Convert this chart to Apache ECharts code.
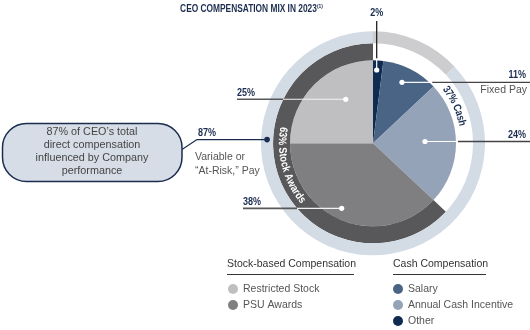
<!DOCTYPE html>
<html>
<head>
<meta charset="utf-8">
<script src="https://cdn.jsdelivr.net/npm/echarts@6/dist/echarts.min.js"></script>
<style>
  html, body { margin: 0; padding: 0; background: #fff; }
  #chart { width: 530px; height: 330px; }
</style>
</head>
<body>
<div id="chart"></div>
<script>
// Pay components, clockwise from 12 o'clock
const components = ['Other', 'Salary', 'Annual Cash Incentive', 'PSU Awards', 'Restricted Stock'];
const shares = [2, 11, 24, 38, 25];
const shareLabels = ['2%', '11%', '24%', '38%', '25%'];
const subLabels = ['', 'Fixed Pay', '', '', ''];
const payGroup = ['cash', 'cash', 'cash', 'stock', 'stock'];
const isVariable = [false, false, true, true, true];

// Legend groups
const stockItems = ['Restricted Stock', 'PSU Awards'];
const cashItems = ['Salary', 'Annual Cash Incentive', 'Other'];
const groupTitles = ['Stock-based Compensation', 'Cash Compensation'];

const titleText = 'CEO COMPENSATION MIX IN 2023';
const titleNote = '(1)';

// ---- derived totals ----
const sumWhere = (f) => shares.reduce((a, v, i) => a + (f(i) ? v : 0), 0);
const total = shares.reduce((a, b) => a + b, 0);
const cashTotal = sumWhere(i => payGroup[i] === 'cash');
const stockTotal = sumWhere(i => payGroup[i] === 'stock');
const variableTotal = sumWhere(i => isVariable[i]);
const fixedTotal = total - variableTotal;

// ---- geometry & style ----
const CX = 373, CY = 143.3;
const R_PIE = 83, R_RING = 100, R_OUT = 112;
const NAVY = '#1b2d4f';
const REG = "'Liberation Sans', Arial, Helvetica, sans-serif";
const NARROW_X = 0.82;          // horizontal squeeze for the condensed bold captions
const BOLD = (px) => `bold ${px}px ${REG}`;
const sliceColors = {
  'Other': '#0f2b52',
  'Salary': '#4a6485',
  'Annual Cash Incentive': '#94a3b7',
  'PSU Awards': '#7f7f82',
  'Restricted Stock': '#bfbfc2'
};
// where each callout dot sits inside its slice (t: fraction of sweep, rf: fraction of radius)
const calloutStyle = {
  'Other': { side: 'top', t: 0.4, rf: 0.884, end: 21 },
  'Salary': { side: 'right', t: 0.46, rf: 0.813, end: 530 },
  'Annual Cash Incentive': { side: 'right', t: 0.477, rf: 0.627, end: 530 },
  'PSU Awards': { side: 'left', t: 0.53, rf: 0.87, end: 243 },
  'Restricted Stock': { side: 'left', t: 0.647, rf: 0.624, end: 237 }
};

function polar(deg, r) {
  const a = deg * Math.PI / 180;
  return [CX + r * Math.sin(a), CY - r * Math.cos(a)];
}

const spans = [];
{
  let cum = 0;
  shares.forEach(v => { const s = cum / total * 360; cum += v; spans.push([s, cum / total * 360]); });
}

const G = [];
const line = (x1, y1, x2, y2, stroke, w) => G.push({
  type: 'line', z: 100, silent: true,
  shape: { x1, y1, x2, y2 }, style: { stroke, lineWidth: w }
});
const text = (x, y, str, opt, scaleX) => G.push({
  type: 'text', z: 110, silent: true, x, y, scaleX: scaleX || 1,
  style: Object.assign({ text: str, x: 0, y: 0, verticalAlign: 'middle' }, opt)
});

// ---- slice callouts ----
components.forEach((name, i) => {
  const L = calloutStyle[name];
  const [s, e] = spans[i];
  const ang = s + L.t * (e - s);
  const [dx, dy] = polar(ang, L.rf * R_PIE);
  const rb = payGroup[i] === 'cash' ? R_PIE + 2 : R_RING;
  const pctFont = BOLD(11);
  if (L.side === 'right') {
    const bx = CX + Math.sqrt(rb * rb - (dy - CY) * (dy - CY));
    line(dx, dy, bx, dy, '#ffffff', 1.2);
    line(bx, dy, L.end, dy, '#444446', 1.4);
    text(526, dy - 7, shareLabels[i], { align: 'right', font: pctFont, fill: NAVY }, NARROW_X);
    if (subLabels[i]) text(527, dy + 7.5, subLabels[i], { align: 'right', font: `10.5px ${REG}`, fill: '#555' });
  } else if (L.side === 'left') {
    const bx = CX - Math.sqrt(rb * rb - (dy - CY) * (dy - CY));
    line(L.end, dy, bx, dy, '#58585a', 1.6);
    line(bx, dy, dx, dy, '#f2f2f2', 1.2);
    text(L.end, dy - 6.5, shareLabels[i], { align: 'left', font: pctFont, fill: NAVY }, NARROW_X);
  } else {
    const by = CY - Math.sqrt(rb * rb - (dx - CX) * (dx - CX));
    line(dx, L.end, dx, by, '#222', 1.3);
    line(dx, by, dx, dy, '#ffffff', 1.2);
    text(dx, 13, shareLabels[i], { align: 'center', font: pctFont, fill: NAVY }, NARROW_X);
  }
  G.push({ type: 'circle', z: 105, silent: true, shape: { cx: dx, cy: dy, r: 2.6 }, style: { fill: '#ffffff' } });
});

// ---- curved ring captions ----
const measureCtx = document.createElement('canvas').getContext('2d');
function arcText(str, centerDeg, r, clockwiseReading, color, font) {
  measureCtx.font = font;
  const chars = [...str];
  const widths = chars.map(ch => measureCtx.measureText(ch).width * NARROW_X);
  const W = widths.reduce((a, b) => a + b, 0);
  const half = W / 2 / r * 180 / Math.PI;
  let off = 0;
  chars.forEach((ch, k) => {
    const mid = (off + widths[k] / 2) / r * 180 / Math.PI;
    const ang = clockwiseReading ? centerDeg - half + mid : centerDeg + half - mid;
    const [x, y] = polar(ang, r);
    const rad = ang * Math.PI / 180;
    G.push({
      type: 'text', z: 110, silent: true, x, y, scaleX: NARROW_X,
      rotation: clockwiseReading ? -rad : -(rad + Math.PI),
      style: { text: ch, x: 0, y: 0, align: 'center', verticalAlign: 'middle', fill: color, font }
    });
    off += widths[k];
  });
}
const ringFont = BOLD(11);
arcText(`${cashTotal}% Cash`, 65.5, 91, true, NAVY, ringFont);
arcText(`${stockTotal}% Stock Awards`, 255, 91, false, '#ffffff', ringFont);

// ---- variable pay callout ----
const [vx, vy] = polar(272, 106);
line(vx, vy, 197, vy, NAVY, 1.2);
line(197, vy, 182, vy + 10, NAVY, 1.2);
G.push({ type: 'circle', z: 105, silent: true, shape: { cx: vx, cy: vy, r: 2.8 }, style: { fill: NAVY } });
text(198, vy - 6.5, `${variableTotal}%`, { align: 'left', font: BOLD(11), fill: NAVY }, NARROW_X);
text(195, vy + 10.5, 'Variable or\n\u201CAt-Risk,\u201D Pay', { align: 'left', font: `10.5px ${REG}`, fill: '#555', lineHeight: 14, verticalAlign: 'top' });
G.push({
  type: 'rect', z: 100, silent: true,
  shape: { x: 2.5, y: 123.5, width: 179.5, height: 58, r: 24 },
  style: { fill: '#d6dde7', stroke: NAVY, lineWidth: 1.5 }
});
text(92, 151.5, `${variableTotal}% of CEO\u2019s total\ndirect compensation\ninfluenced by Company\nperformance`,
  { align: 'center', font: `10.8px ${REG}`, fill: '#444', lineHeight: 13 });

// ---- title ----
G.push({
  type: 'text', z: 110, silent: true, x: 251.5, y: 9, scaleX: NARROW_X,
  style: {
    text: `{t|${titleText}}{s|${titleNote}}`,
    align: 'center', verticalAlign: 'middle',
    rich: {
      t: { fontFamily: REG, fontWeight: 'bold', fontSize: 10.2, fill: NAVY, lineHeight: 12 },
      s: { fontFamily: REG, fontWeight: 'bold', fontSize: 6, fill: NAVY, lineHeight: 7, verticalAlign: 'top' }
    }
  }
});

// ---- legend headers ----
text(227, 264, groupTitles[0], { align: 'left', font: `10.5px ${REG}`, fill: '#333' });
line(227, 274.5, 354, 274.5, '#333', 1);
text(393, 264, groupTitles[1], { align: 'left', font: `10.5px ${REG}`, fill: '#333' });
line(393, 274.5, 486, 274.5, '#333', 1);

const legendBase = {
  orient: 'vertical', icon: 'circle', itemWidth: 10, itemHeight: 10, itemGap: 4,
  selectedMode: false, top: 283, padding: 0, height: 46,
  textStyle: { fontSize: 10.5, color: '#555', fontFamily: REG, lineHeight: 12 }
};

const chart = echarts.init(document.getElementById('chart'), null, { renderer: 'canvas' });
chart.setOption({
  animation: false,
  legend: [
    Object.assign({}, legendBase, { data: stockItems, left: 228 }),
    Object.assign({}, legendBase, { data: cashItems, left: 393 })
  ],
  series: [
    {
      type: 'pie', silent: true, center: [CX, CY], radius: [0, R_PIE],
      startAngle: 90, clockwise: true, label: { show: false }, labelLine: { show: false },
      data: components.map((n, i) => ({ name: n, value: shares[i], itemStyle: { color: sliceColors[n] } }))
    },
    {
      type: 'pie', silent: true, center: [CX, CY], radius: [R_PIE, R_RING],
      startAngle: 90, clockwise: true, label: { show: false }, labelLine: { show: false },
      data: [
        { name: 'Cash', value: cashTotal, itemStyle: { color: 'rgba(255,255,255,0)' } },
        { name: 'Stock Awards', value: stockTotal, itemStyle: { color: '#58585a' } }
      ]
    },
    {
      type: 'pie', silent: true, center: [CX, CY], radius: [R_RING, R_OUT],
      startAngle: 90, clockwise: true, label: { show: false }, labelLine: { show: false },
      data: [
        { name: 'Fixed', value: fixedTotal, itemStyle: { color: '#cdcdcf' } },
        { name: 'Variable', value: variableTotal, itemStyle: { color: '#d3dbe5' } }
      ]
    }
  ],
  graphic: { elements: G }
});
</script>
</body>
</html>
